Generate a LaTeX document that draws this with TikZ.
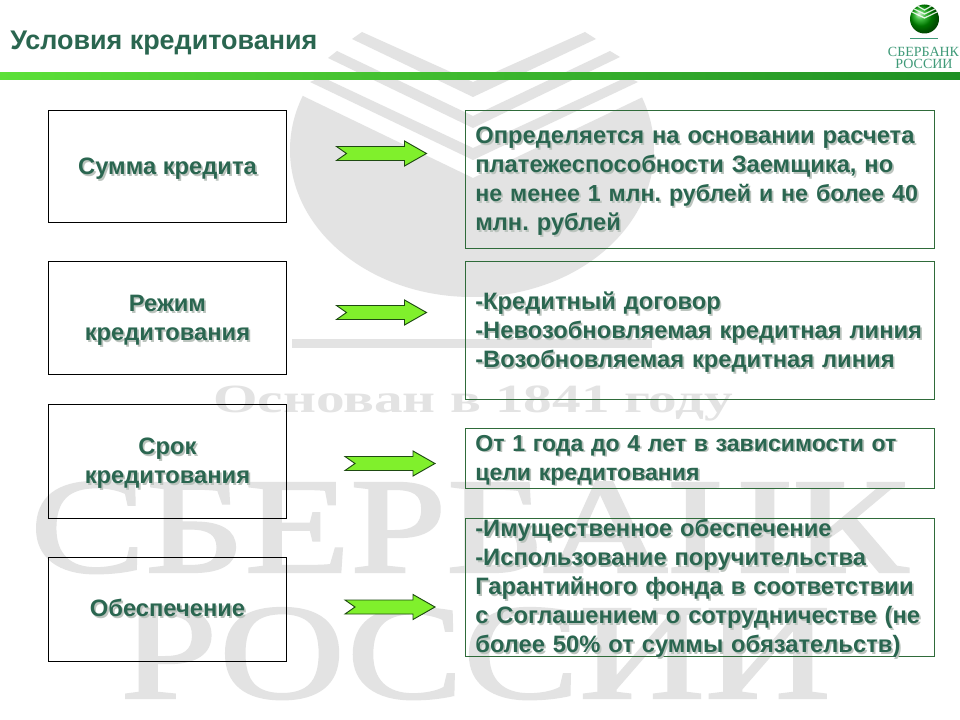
\documentclass[tikz,border=0pt]{standalone}
\usepackage{fontspec}
\setmainfont{Liberation Sans}
\newfontfamily\wmserif{Liberation Serif}
\newfontfamily\wmheavy[FakeBold=1.6]{Liberation Serif}
\frenchspacing
\usetikzlibrary{shadings}
\definecolor{txtgreen}{HTML}{2A6650}
\definecolor{shgrey}{HTML}{BCC4BE}
\definecolor{wm}{HTML}{E3E3E3}
\definecolor{boxgreen}{HTML}{2F6B3A}
\definecolor{arrowfill}{HTML}{80F02C}
\definecolor{arrowline}{HTML}{1E4A12}
\definecolor{logotxt}{HTML}{3F9A78}
\definecolor{barleft}{HTML}{5CE038}
\definecolor{barmid}{HTML}{45C832}
\definecolor{barright}{HTML}{1E8F24}
\newcommand{\sh}[1]{\leavevmode\rlap{\kern1.3pt\raisebox{-1.3pt}{\textcolor{shgrey}{#1}}}\textcolor{txtgreen}{#1}}
\newcommand{\fl}[1][16]{\rule{0pt}{#1pt}}
\newcommand{\el}{\rule[-4pt]{0pt}{4pt}}
\newcommand{\bodyfont}{\fontsize{17.8pt}{21.75pt}\selectfont\bfseries}
\newcommand{\narrowfont}{\fontsize{17.3pt}{21.75pt}\selectfont\bfseries}
\tikzset{
  leftbox/.style={draw=black,line width=0.75pt,fill=none,inner sep=0pt,align=center,font=\bodyfont},
  rightbox/.style={draw=boxgreen,line width=0.65pt,fill=none,inner sep=0pt,inner xsep=7.5pt,align=left,font=\bodyfont,text width=337pt},
  blockarrow/.style={fill=arrowfill,draw=arrowline,line width=0.7pt,line join=miter},
  watermark/.style={fill=wm,draw=none},
  wmtext/.style={text=wm,inner sep=0pt,anchor=base west,text depth=0pt},
  pics/gotoarrow/.style={code={
    \path[blockarrow] (0,-7) -- (68,-7) -- (68,-12.5) -- (90,0) -- (68,12.5) -- (68,7) -- (0,7) -- (10,0) -- cycle;
  }}
}
\begin{document}
\begin{tikzpicture}[x=0.75pt,y=-0.75pt]
\useasboundingbox (0,0) rectangle (960,720);
\fill[white] (0,0) rectangle (960,720);
% watermark emblem
\begin{scope}
  \clip (303,96) -- (473,178) -- (645,96) -- (700,96) -- (700,320) -- (250,320) -- (250,96) -- cycle;
  \fill[watermark] (472,150) ellipse [x radius=182, y radius=147];
\end{scope}
\fill[watermark] (362,32) -- (352,39) -- (473,97) -- (596,39) -- (585,32) -- (473,82) -- cycle;
\fill[watermark] (337,51) -- (328,58) -- (473,128) -- (620,57) -- (610,51) -- (473,116) -- cycle;
\fill[watermark] (322,77) -- (310,82) -- (473,160) -- (638,82) -- (627,77) -- (473,148) -- cycle;
\fill[watermark] (292,339) rectangle (652,348);
\node[wmtext,xscale=1.43,font=\wmserif\bfseries\fontsize{30pt}{30pt}\selectfont] (wmfounded) at (213,412) {Основан в 1841 году};
\node[wmtext,xscale=1.27,font=\wmheavy\fontsize{102pt}{102pt}\selectfont] (wmname) at (30,572) {СБЕРБАНК};
\node[wmtext,xscale=1.28,font=\wmheavy\fontsize{102pt}{102pt}\selectfont] (wmcountry) at (120,698) {РОССИИ};
% top bar
\shade[left color=barleft,middle color=barmid,right color=barright] (0,73) rectangle (960,80);
% title
\node[anchor=base west,inner sep=0pt,font=\fontsize{20.2pt}{24pt}\selectfont\bfseries,text=txtgreen] (title) at (10,50) {Условия кредитования};
% logo
\begin{scope}
  \clip (924.5,19) circle [radius=14.5];
  \shade[ball color=green!65!black] (924.5,19) circle [radius=14.5];
  \draw[white,line width=0.9pt,opacity=0.85] (912,8) -- (924.5,14) -- (937,8);
  \draw[white,line width=0.9pt,opacity=0.85] (910,11) -- (924.5,18) -- (939,11);
  \draw[white,line width=0.9pt,opacity=0.85] (914,4) -- (924.5,10) -- (935,4);
\end{scope}
\draw[logotxt,line width=0.5pt] (910,38) -- (938,38);
\node[anchor=base,inner sep=0pt,text=logotxt,font=\wmserif\fontsize{10.5pt}{10.5pt}\selectfont] (logo1) at (923.5,57) {СБЕРБАНК};
\node[anchor=base,inner sep=0pt,text=logotxt,font=\wmserif\fontsize{10.5pt}{10.5pt}\selectfont] (logo2) at (924,68.5) {РОССИИ};
% left boxes
\node[leftbox,minimum width=178pt,minimum height=84pt] (a1) at (167.5,167) {\fl\sh{Сумма кредита}\el};
\node[leftbox,minimum width=178pt,minimum height=84pt] (a2) at (167.5,318) {\fl[16.75]\sh{Режим}\\\sh{кредитования}\el};
\node[leftbox,minimum width=178pt,minimum height=85pt] (a3) at (167.5,461.5) {\fl\sh{Срок}\\\sh{кредитования}\el};
\node[leftbox,minimum width=178pt,minimum height=78pt] (a4) at (167.5,609) {\fl[15.6]\sh{Обеспечение}\el};
% right boxes
\node[rightbox,minimum width=352pt,minimum height=103pt] (b1) at (700,179.5) {\fl\sh{Определяется на основании расчета}\\\sh{платежеспособности Заемщика, но}\\{\fontsize{17.4pt}{21.75pt}\selectfont\sh{не менее 1 млн. рублей и не более 40}}\\\sh{млн. рублей}\el};
\node[rightbox,minimum width=352pt,minimum height=103pt] (b2) at (700,330.5) {\fl[16.7]\sh{-Кредитный договор}\\\sh{-Невозобновляемая кредитная линия}\\\sh{-Возобновляемая кредитная линия}\el};
\node[rightbox,font=\narrowfont,minimum width=352pt,minimum height=45pt] (b3) at (700,458) {\fl[16.3]\sh{От 1 года до 4 лет в зависимости от}\\\sh{цели кредитования}\el};
\node[rightbox,minimum width=352pt,minimum height=103pt] (b4) at (700,587.5) {\fl[13.4]\sh{-Имущественное обеспечение}\\\sh{-Использование поручительства}\\\sh{Гарантийного фонда в соответствии}\\\sh{с Соглашением о сотрудничестве (не}\\\smash{\sh{более 50\% от суммы обязательств)}}\rule[-2.6pt]{0pt}{2.6pt}};
% arrows
\pic at (336.5,153.5) {gotoarrow};
\pic at (336.5,312.5) {gotoarrow};
\pic at (345,463.5) {gotoarrow};
\pic at (345,607) {gotoarrow};
\end{tikzpicture}
\end{document}
